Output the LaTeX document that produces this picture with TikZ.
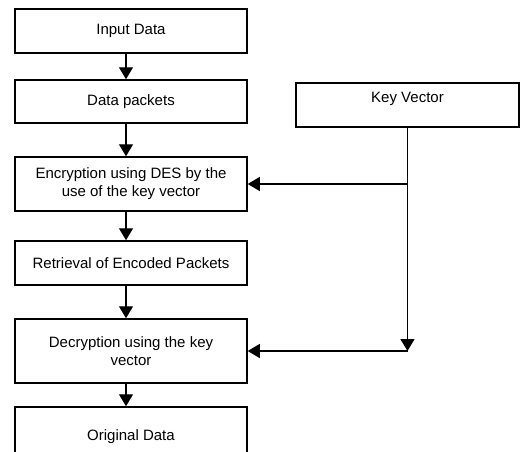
\documentclass[tikz,border=0pt]{standalone}
\usepackage{fontspec}
\setmainfont{Liberation Sans}
\usetikzlibrary{arrows.meta}
\tikzset{
  stepbox/.style={draw,line width=1.5pt,minimum width=232pt,inner sep=2pt,align=center,
    font=\fontsize{15}{18}\selectfont},
  flow/.style={line width=1.2pt,-{Triangle[length=12pt,width=14pt]}}
}
\begin{document}
\begin{tikzpicture}[x=1pt,y=-1pt]
\useasboundingbox (0,0) rectangle (520,451);
\clip (0,0) rectangle (520,451);
\node[stepbox,minimum height=44pt] (input) at (131,31) {Input Data};
\node[stepbox,minimum height=43pt] (packets) at (131,101.5) {Data packets};
\node[stepbox,minimum height=54pt] (encrypt) at (131,184) {Encryption using DES by the\\use of the key vector};
\node[stepbox,minimum height=44pt] (retrieve) at (131,263) {Retrieval of Encoded Packets};
\node[stepbox,minimum height=64pt] (decrypt) at (131,351) {Decryption using the key\\vector};
\node[stepbox,minimum height=60pt] (original) at (131,437) {Original Data};
\node[stepbox,minimum width=223pt,minimum height=44pt,text height=11pt,text depth=16pt] (key) at (407.5,105) {Key Vector};
% down the main chain
\foreach \a/\b in {input/packets,packets/encrypt,encrypt/retrieve,retrieve/decrypt,decrypt/original}
  \draw[flow] ([xshift=-5pt]\a.south) -- ([xshift=-5pt]\b.north);
% key vector feed
\coordinate (j1) at (key.south |- encrypt.east);
\coordinate (j2) at (key.south |- decrypt.east);
\draw[line width=1.2pt] (key.south) -- (j1);
\draw[flow] (j1) -- (j2);
\draw[flow] (j1) -- (encrypt.east);
\draw[flow] (j2) -- (decrypt.east);
\end{tikzpicture}
\end{document}
